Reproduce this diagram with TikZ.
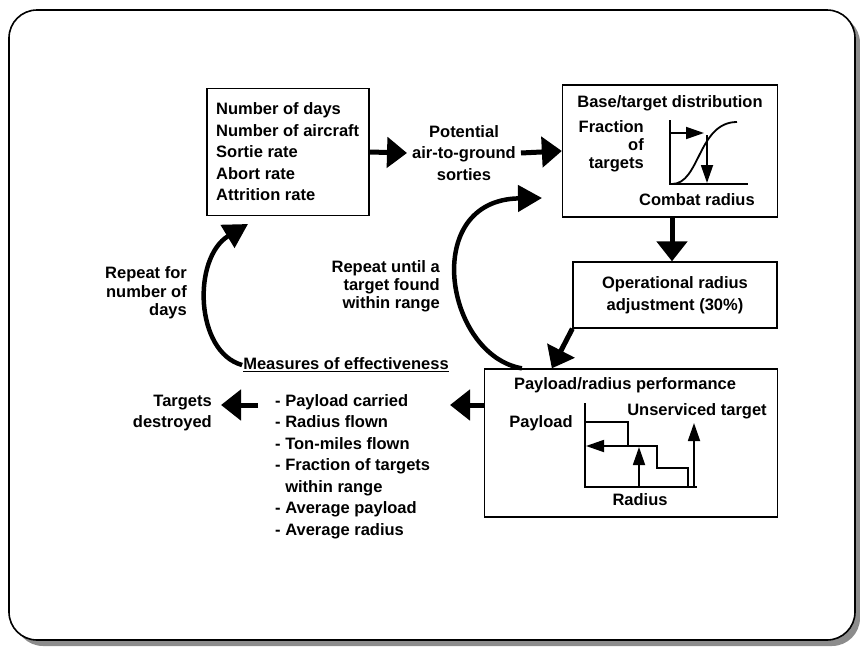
\documentclass[tikz,border=0pt]{standalone}
\usepackage{fontspec}
\setmainfont{Liberation Sans}
\usetikzlibrary{arrows.meta}
\begin{document}
\begin{tikzpicture}[x=1pt,y=-1pt,
    every node/.style={font=\fontsize{16.5}{21.5}\selectfont\bfseries},
    box/.style={draw,line width=1.3pt,inner sep=0pt},
    lbl/.style={inner sep=1pt},
    bigarrow/.style={line width=5pt,-{Triangle[width=30pt,length=20pt]}},
    curvearrow/.style={line width=4.5pt,-{Triangle[width=26pt,length=24pt]}},
    plotline/.style={line width=1.8pt},
    smallarrow/.style={line width=1.8pt,-{Triangle[width=12pt,length=18pt]}}]

    \useasboundingbox (0,0) rectangle (860,648);
    % frame with shadow
    \fill[black!45,rounded corners=28pt] (15,15) rectangle (860,646);
    \draw[fill=white,line width=1.6pt,rounded corners=28pt] (9,10) rectangle (855,640);

    % boxes
    \node[box,minimum width=162pt,minimum height=127pt] (inputs) at (288,152) {};
    \node[lbl,anchor=west,align=left] (inputlist) at (215,152)
        {Number of days\\Number of aircraft\\Sortie rate\\Abort rate\\Attrition rate};
    \node[lbl,inner xsep=5pt,align=center] (sorties) at (464,153) {Potential\\air-to-ground\\sorties};
    \node[box,minimum width=215pt,minimum height=132pt] (base) at (670,151) {};
    \node[box,minimum width=204pt,minimum height=66pt,align=center] (op) at (675,295)
        {Operational radius\\adjustment (30\%)};
    \node[box,minimum width=293pt,minimum height=148pt] (payload) at (631,443) {};

    % base/target distribution contents
    \node[lbl] (basetitle) at (670,103) {Base/target distribution};
    \node[lbl,anchor=east,align=right,font=\fontsize{16.5}{18}\selectfont\bfseries] (fraction) at (645,146) {Fraction\\of\\targets};
    \node[lbl] (combat) at (697,200) {Combat radius};
    \draw[plotline] (670,120) -- (670,184) -- (748,184);
    \draw[plotline] (672,184) .. controls (700,184) and (698,122) .. (737,122);
    \draw[smallarrow] (670,133) -- (704,133);
    \draw[smallarrow] (707,135) -- (707,183);

    % payload/radius contents
    \node[lbl] (paytitle) at (625,385) {Payload/radius performance};
    \node[lbl] (payaxis) at (541,423) {Payload};
    \node[lbl] (unserviced) at (697,411) {Unserviced target};
    \node[lbl] (radius) at (640,500) {Radius};
    \draw[plotline] (585,403) -- (585,487) -- (697,487);
    \draw[plotline] (585,422) -- (628,422) -- (628,446) -- (657,446) -- (657,468) -- (688,468) -- (688,487);
    \draw[smallarrow] (628,446) -- (586,446);
    \draw[smallarrow] (639,487) -- (639,447);
    \draw[smallarrow] (694,487) -- (694,423);

    % measures of effectiveness
    \node[lbl] (measures) at (346,365) {\underline{Measures of effectiveness}};
    \node[lbl,anchor=north west,align=left] (moe) at (274,393)
        {- Payload carried\\- Radius flown\\- Ton-miles flown\\- Fraction of targets\\\hphantom{- }within range\\- Average payload\\- Average radius};
    \node[lbl,anchor=east,align=right] (destroyed) at (213,413) {Targets\\destroyed};
    \coordinate (moetip) at (450,405);
    \coordinate (moetail) at (258,405);
    \coordinate (desttip) at (221,405);

    \node[lbl,anchor=east,align=right,font=\fontsize{16.5}{18.5}\selectfont\bfseries] (repeatdays) at (188,293) {Repeat for\\number of\\days};
    \node[lbl,anchor=east,align=right,font=\fontsize{16.5}{18}\selectfont\bfseries] (repeattarget) at (441,286) {Repeat until a\\target found\\within range};
    \coordinate (daystip) at (248,224);
    \coordinate (targettip) at (542,198);

    % connectors
    \draw[bigarrow] (inputs.east) -- (sorties.west);
    \draw[bigarrow] (sorties.east) -- (base.west);
    \draw[bigarrow] ([xshift=2pt]base.south) -- ([xshift=2pt]base.south |- op.north);
    \draw[bigarrow] (op.south west) -- ([xshift=68pt]payload.north west);
    \draw[bigarrow] ([yshift=38pt]payload.west) -- (moetip);
    \draw[bigarrow] (moetail) -- (desttip);
    \draw[curvearrow] (measures.west) .. controls (195,352) and (192,258) .. (daystip);
    \draw[curvearrow] ([xshift=38pt]payload.north west) .. controls (445,355) and (420,200) .. (targettip);
\end{tikzpicture}
\end{document}
